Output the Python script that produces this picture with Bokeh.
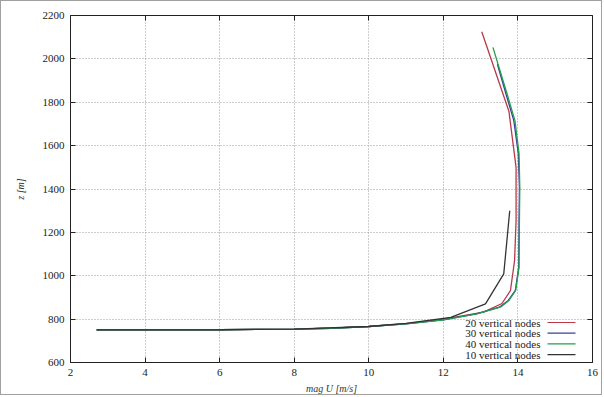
from bokeh.plotting import figure
from bokeh.models import Range1d, LinearAxis, FixedTicker, Label, BoxAnnotation, CustomLabelingPolicy
from bokeh.embed import file_html
from bokeh.resources import INLINE

# ---- data ----
z20 = [750, 750, 751, 754, 758, 766, 779, 800, 832, 872, 932, 1070, 1254, 1500, 1757, 2125]
u20 = [2.70, 4.0, 6.0, 8.0, 9.0, 10.0, 11.0, 12.0, 13.08, 13.57, 13.80, 13.91, 13.95, 13.95, 13.76, 13.03]

z30 = [750, 750, 751, 754, 758, 766, 778, 797, 824, 855, 886, 932, 1039, 1254, 1408, 1563, 1715, 1838, 1975]
u30 = [2.70, 4.0, 6.0, 8.0, 9.0, 10.0, 11.0, 12.0, 12.88, 13.50, 13.74, 13.93, 14.02, 14.03, 14.04, 14.01, 13.89, 13.68, 13.45]

z40 = [750, 750, 751, 754, 758, 766, 778, 797, 824, 855, 886, 932, 1039, 1254, 1408, 1563, 1715, 1838, 2053]
u40 = [2.70, 4.0, 6.0, 8.0, 9.0, 10.0, 11.0, 12.0, 12.90, 13.53, 13.76, 13.94, 14.03, 14.04, 14.05, 14.03, 13.92, 13.71, 13.33]

z10 = [750, 751, 754, 766, 780, 808, 870, 1009, 1300]
u10 = [2.70, 6.0, 8.0, 10.0, 11.0, 12.2, 13.13, 13.62, 13.78]

series_labels = ["20 vertical nodes", "30 vertical nodes", "40 vertical nodes", "10 vertical nodes"]
series_colors = ["#b8394a", "#3a3f9e", "#22a04a", "#333333"]

x_ticks = [2, 4, 6, 8, 10, 12, 14, 16]
y_ticks = [600, 800, 1000, 1200, 1400, 1600, 1800, 2000, 2200]

FONT = "Times New Roman, Liberation Serif, serif"

p = figure(width=602, height=395, output_backend="svg", toolbar_location=None,
           x_range=Range1d(2, 16), y_range=Range1d(600, 2200),
           min_border_left=69, min_border_right=11, min_border_top=14, min_border_bottom=34)
p.styles = {"border": "1px solid #a0a0a0"}
p.outline_line_color = "#222222"
p.outline_line_width = 1

for ax in (p.xaxis[0], p.yaxis[0]):
    ax.major_label_text_font = FONT
    ax.major_label_text_font_size = "11px"
    ax.major_label_text_color = "#222222"
    ax.axis_label_text_font = FONT
    ax.axis_label_text_font_style = "italic"
    ax.axis_label_text_font_size = "10px"
    ax.axis_label_text_color = "#333333"
    ax.major_tick_in = 5
    ax.major_tick_out = 0
    ax.minor_tick_in = 0
    ax.minor_tick_out = 0
    ax.axis_line_color = None
    ax.major_tick_line_color = "#222222"

p.xaxis[0].ticker = FixedTicker(ticks=x_ticks)
p.yaxis[0].ticker = FixedTicker(ticks=y_ticks)
p.xaxis[0].axis_label = "mag U [m/s]"
p.yaxis[0].axis_label = "z [m]"
p.xaxis[0].major_label_standoff = 6
p.yaxis[0].major_label_standoff = 6
p.xaxis[0].axis_label_standoff = 4
p.yaxis[0].axis_label_standoff = 14

# mirror ticks (no labels)
hide_all = CustomLabelingPolicy(code="return new Set()")
for loc, tk in (("right", y_ticks), ("above", x_ticks)):
    a = LinearAxis(ticker=FixedTicker(ticks=tk), major_label_policy=hide_all,
                   major_label_text_font_size="1px",
                   major_tick_in=5, major_tick_out=0, minor_tick_in=0, minor_tick_out=0,
                   axis_line_color=None, major_label_standoff=0, major_tick_line_color="#222222")
    p.add_layout(a, loc)

p.xgrid.ticker = FixedTicker(ticks=x_ticks)
p.ygrid.ticker = FixedTicker(ticks=y_ticks)
for g in (p.xgrid[0], p.ygrid[0]):
    g.grid_line_color = "#9a9a9a"
    g.grid_line_dash = "1 2"
    g.grid_line_width = 1

series = [(u20, z20), (u30, z30), (u40, z40), (u10, z10)]
for (u, z), c in zip(series, series_colors):
    p.line(u, z, line_color=c, line_width=1.3)

# legend: text on the left, sample line on the right (gnuplot style)
for i, (lab, c) in enumerate(zip(series_labels, series_colors)):
    ys = 40 - i * 10.7
    p.add_layout(Label(x=470, y=ys, x_units="screen", y_units="screen", text=lab,
                       text_align="right", text_baseline="middle", text_font=FONT,
                       text_font_size="11px", text_color="#222222"))
    p.add_layout(BoxAnnotation(left=477, right=505, bottom=ys - 0.6, top=ys + 0.6,
                               left_units="screen", right_units="screen",
                               bottom_units="screen", top_units="screen",
                               fill_color=c, fill_alpha=1, line_color=None))

open("out.html", "w").write(file_html(p, INLINE))
